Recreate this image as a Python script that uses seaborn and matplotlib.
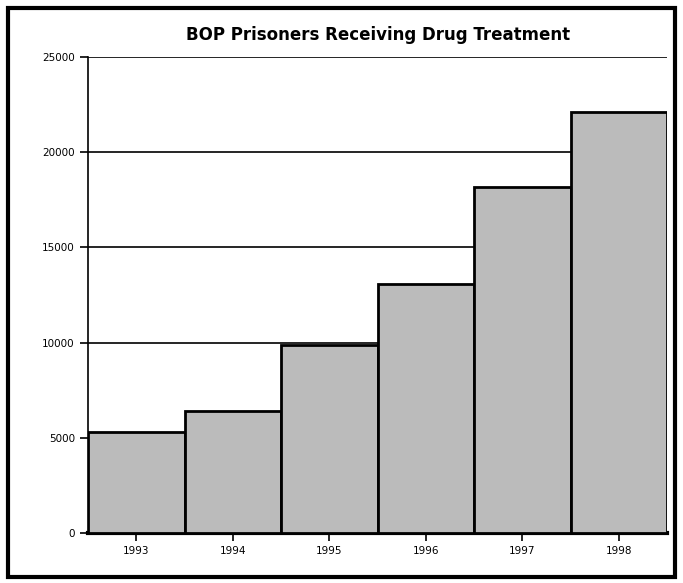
import pandas as pd
import matplotlib
matplotlib.use("Agg")
import matplotlib.pyplot as plt
import seaborn as sns
from matplotlib.patches import Rectangle

# data
years = ["1993", "1994", "1995", "1996", "1997", "1998"]
prisoners = [5300, 6400, 9850, 13100, 18150, 22100]

df = pd.DataFrame({"year": years, "prisoners": prisoners})

sns.set_style("white")
plt.rcParams["font.family"] = ["DejaVu Sans"]

fig = plt.figure(figsize=(6.83, 5.83), dpi=100)
ax = fig.add_axes([0.129, 0.086, 0.848, 0.816])

# outer frame around the whole picture
fig.patches.append(Rectangle((0.011, 0.011), 0.978, 0.976, transform=fig.transFigure,
                             fill=False, edgecolor="black", linewidth=3))

sns.barplot(data=df, x="year", y="prisoners", color="#bbbbbb", edgecolor="black",
            linewidth=2, width=1.0, saturation=1, ax=ax, zorder=3)

ax.set_ylim(0, 25000)
ax.set_xlim(-0.5, 5.5)
ax.set_yticks(range(0, 25001, 5000))
ax.yaxis.grid(True, color="black", linewidth=1.2, zorder=0)
ax.set_axisbelow(True)

ax.set_title("BOP Prisoners Receiving Drug Treatment", fontsize=12, fontweight="bold",
             color="black", pad=12)
ax.set_xlabel("")
ax.set_ylabel("")

for side in ["top", "right"]:
    ax.spines[side].set_visible(False)
ax.spines["left"].set_linewidth(1.2)
ax.spines["bottom"].set_linewidth(3)
ax.spines["left"].set_color("black")
ax.spines["bottom"].set_color("black")

ax.tick_params(axis="both", labelsize=7.5, colors="black", direction="out",
               length=6, width=1.2, left=True, bottom=True)

fig.savefig("out.png", dpi=100)
